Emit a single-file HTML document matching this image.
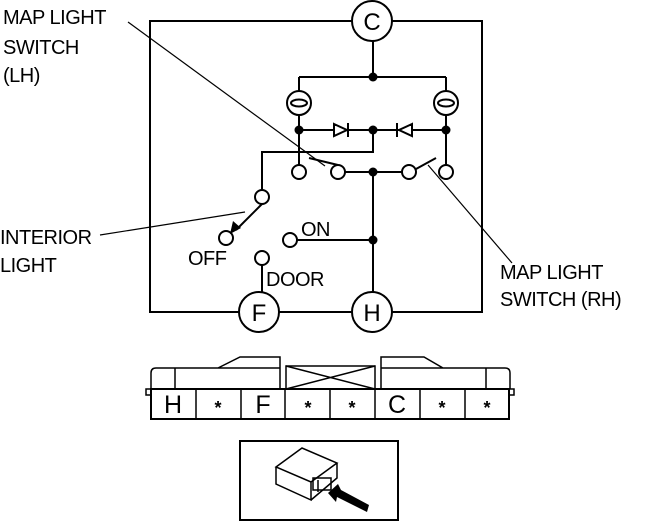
<!DOCTYPE html><html><head><style>body{margin:0;background:#fff}svg{display:block}text{font-family:"Liberation Sans",sans-serif;fill:#000}</style></head><body>
<svg width="653" height="521" viewBox="0 0 653 521" xmlns="http://www.w3.org/2000/svg">
<g fill="none" stroke="#000" stroke-width="2">
<rect x="150" y="21" width="332" height="291"/>
<path d="M373 41V77M299 77H446M299 77V130M446 77V130M299 130H446M373 130V152H262V190M299 130V165M446 130V165M345 172H402M373 172V292M297 240H373M262 265V292"/>
<path d="M338 165L309 158M416 169L436 158" />
<path d="M262 204L236 230"/>
<circle cx="299" cy="103" r="12" fill="#fff"/><circle cx="446" cy="103" r="12" fill="#fff"/>
<ellipse cx="299" cy="103" rx="8" ry="3.5"/><ellipse cx="446" cy="103" rx="8" ry="3.5"/>
<circle cx="299" cy="172" r="7" fill="#fff"/><circle cx="338" cy="172" r="7" fill="#fff"/><circle cx="409" cy="172" r="7" fill="#fff"/><circle cx="446" cy="172" r="7" fill="#fff"/>
<circle cx="262" cy="197" r="7" fill="#fff"/><circle cx="226" cy="238" r="7" fill="#fff"/><circle cx="290" cy="240" r="7" fill="#fff"/><circle cx="262" cy="258" r="7" fill="#fff"/>
<circle cx="372" cy="21" r="20" fill="#fff"/><circle cx="259" cy="312" r="20" fill="#fff"/><circle cx="372" cy="312" r="20" fill="#fff"/>
<path d="M334 124L347 130L334 136ZM348 123V137M412 124L399 130L412 136ZM397 123V137" fill="#fff"/>
</g>
<path d="M230 234L233 221L241 228Z"/>
<g fill="#000"><circle cx="373" cy="77" r="4.5"/><circle cx="299" cy="130" r="4.5"/><circle cx="373" cy="130" r="4.5"/><circle cx="446" cy="130" r="4.5"/><circle cx="373" cy="172" r="4.5"/><circle cx="373" cy="240" r="4.5"/></g>
<g stroke="#000" stroke-width="1.2"><line x1="128" y1="22" x2="325" y2="166"/><line x1="100" y1="235" x2="245" y2="212"/><line x1="428" y1="165" x2="512" y2="263"/></g>
<g font-size="24" text-anchor="middle"><text x="372" y="30">C</text><text x="259" y="321">F</text><text x="372" y="321">H</text></g>
<g font-size="20" letter-spacing="-0.5"><text x="3" y="24">MAP LIGHT</text><text x="3" y="54">SWITCH</text><text x="3" y="82">(LH)</text>
<text x="0" y="244">INTERIOR</text><text x="0" y="272">LIGHT</text>
<text x="500" y="279">MAP LIGHT</text><text x="500" y="306">SWITCH (RH)</text>
<text x="301" y="236">ON</text><text x="188" y="265">OFF</text><text x="266" y="286">DOOR</text></g>
<g fill="none" stroke="#000" stroke-width="1.5">
<path d="M151 389V373Q151 368 156 368H280V357H240L218 368M175 368V389M280 368V389"/>
<path d="M381 389V357H424L443 368H505Q510 368 510 373V389M486 368V389M381 368H443"/>
<rect x="286" y="366" width="89" height="23"/><path d="M286 366L375 389M375 366L286 389"/>
<rect x="146" y="389" width="5" height="6"/><rect x="509" y="389" width="5" height="6"/>
<rect x="151" y="389" width="358" height="30" stroke-width="2"/>
<path d="M196 389V419M241 389V419M285 389V419M330 389V419M375 389V419M420 389V419M465 389V419"/>
<rect x="240" y="441" width="158" height="79" stroke-width="2"/>
<path d="M276 467L302 448L337 463L311 482ZM276 467V484L311 500V482M337 463V478L311 500"/>
<rect x="313" y="478" width="18" height="12"/><path d="M318 480V492"/>
</g>
<path d="M328 493L338 484L341 490L369 505L367 512L337 497L336 502Z"/>
<g font-size="25" text-anchor="middle"><text x="173" y="413">H</text><text x="263" y="413">F</text><text x="397" y="413">C</text></g>
<g font-size="18" font-weight="bold" text-anchor="middle"><text x="218" y="414">*</text><text x="308" y="414">*</text><text x="352" y="414">*</text><text x="442" y="414">*</text><text x="487" y="414">*</text></g>
</svg></body></html>
